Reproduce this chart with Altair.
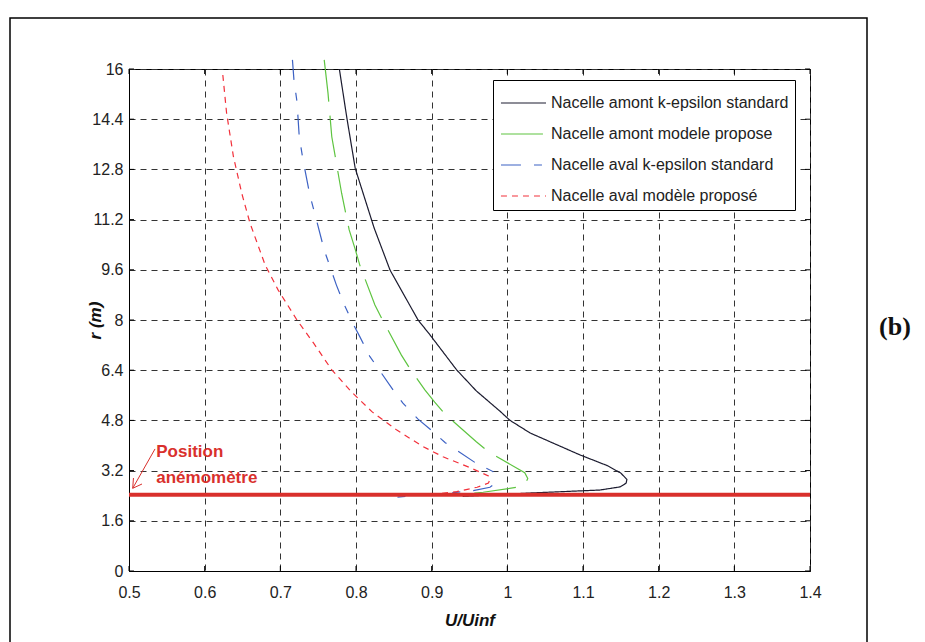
import altair as alt
import pandas as pd

FONT = "Liberation Sans, Arial, sans-serif"

series_names = [
    "Nacelle amont k-epsilon standard",
    "Nacelle amont  modele propose",
    "Nacelle aval k-epsilon standard",
    "Nacelle aval  modèle proposé",
]
series_colors = ["#1b1b2f", "#5ec440", "#3d62c4", "#f2303a"]
series_dashes = [[1, 0], [42, 14], [20, 13, 8, 14], [6, 5]]

black_u = [0.778, 0.788, 0.799, 0.824, 0.845, 0.882, 0.898, 0.933, 0.959, 0.990, 1.003, 1.030,
           1.096, 1.132, 1.150, 1.158, 1.157, 1.149, 1.122, 1.034, 0.941]
black_r = [16.0, 14.43, 12.83, 10.93, 9.59, 8.0, 7.52, 6.41, 5.74, 5.10, 4.81, 4.40,
           3.70, 3.36, 3.12, 2.92, 2.80, 2.68, 2.58, 2.49, 2.38]

green_u = [0.758, 0.763, 0.768, 0.781, 0.791, 0.799, 0.805, 0.825, 0.834, 0.860, 0.871, 0.891,
           0.904, 0.918, 0.959, 0.975, 1.023, 1.027, 1.023, 1.019, 0.968, 0.940]
green_r = [16.29, 15.23, 13.84, 12.04, 10.87, 10.25, 9.75, 8.48, 8.05, 6.88, 6.46, 5.77,
           5.38, 4.99, 4.12, 3.80, 3.13, 2.95, 2.74, 2.69, 2.51, 2.44]

blue_u = [0.716, 0.718, 0.722, 0.725, 0.730, 0.739, 0.746, 0.758, 0.774, 0.784, 0.797, 0.805,
          0.818, 0.849, 0.862, 0.882, 0.898, 0.918, 0.959, 0.981, 0.983, 0.981, 0.977, 0.955,
          0.929, 0.852]
blue_r = [16.29, 15.65, 14.96, 13.84, 13.10, 11.98, 11.35, 10.23, 9.12, 8.51, 7.84, 7.47,
          6.85, 5.77, 5.35, 4.84, 4.52, 4.09, 3.43, 3.17, 2.95, 2.74, 2.67, 2.56,
          2.50, 2.35]

red_u = [0.624, 0.629, 0.638, 0.649, 0.660, 0.680, 0.697, 0.722, 0.744, 0.768, 0.794, 0.821,
         0.854, 0.889, 0.915, 0.951, 0.975, 0.977, 0.975, 0.960, 0.933, 0.893, 0.852]
red_r = [15.81, 14.59, 13.21, 12.04, 11.08, 9.75, 8.96, 8.0, 7.26, 6.41, 5.71, 5.08,
         4.49, 3.96, 3.64, 3.29, 3.03, 2.92, 2.80, 2.67, 2.53, 2.42, 2.40]

x_ticks = [0.5, 0.6, 0.7, 0.8, 0.9, 1.0, 1.1, 1.2, 1.3, 1.4]
y_ticks = [0, 1.6, 3.2, 4.8, 6.4, 8, 9.6, 11.2, 12.8, 14.4, 16]

anemometer_r = [2.43]
ann_text = ["Position", "anémomètre"]
ann_u = [0.536, 0.536]
ann_r = [3.63, 2.79]
arrow_u = [0.5344, 0.5049, 0.5059, 0.5049, 0.5172]
arrow_r = [3.89, 2.636, 2.964, 2.636, 2.773]
arrow_seg = [0, 0, 1, 1, 1]

panel_label = ["(b)"]

rows = []
for name, us, rs in zip(series_names, [black_u, green_u, blue_u, red_u], [black_r, green_r, blue_r, red_r]):
    for i, (u, r) in enumerate(zip(us, rs)):
        rows.append({"series": name, "u": u, "r": r, "i": i})
df = pd.DataFrame(rows)

W, H = 681, 502
xs = alt.Scale(domain=[0.5, 1.4], nice=False, zero=False)
ys = alt.Scale(domain=[0, 16], nice=False, zero=False)
x_axis = alt.Axis(values=x_ticks, format=".1~f", title="U/Uinf", titleY=49,
                  titleBaseline="middle", labelFlush=False, labelOverlap=False,
                  labelPadding=13)
y_axis = alt.Axis(values=y_ticks, format=".1~f", title="r (m)", titleX=-34, titleY=251,
                  titleAlign="center", titleBaseline="middle", labelFlush=False,
                  labelOverlap=False, labelPadding=6)


def X():
    return alt.X("u:Q", scale=xs, axis=x_axis, title="U/Uinf")


def Y():
    return alt.Y("r:Q", scale=ys, axis=y_axis, title="r (m)")


lines = alt.Chart(df).mark_line(strokeWidth=1.2, clip=False).encode(
    x=X(), y=Y(),
    color=alt.Color("series:N", sort=series_names,
                    scale=alt.Scale(domain=series_names, range=series_colors),
                    legend=alt.Legend(title=None)),
    strokeDash=alt.StrokeDash("series:N", sort=series_names,
                              scale=alt.Scale(domain=series_names, range=series_dashes),
                              legend=alt.Legend(title=None)),
    order="i:Q",
)

# inner ticks (MATLAB style)
xt = pd.DataFrame({"u": x_ticks})
yt = pd.DataFrame({"r": y_ticks})
tick_b = alt.Chart(xt).mark_rule(color="black", strokeWidth=1).encode(
    x=X(), y=alt.value(H), y2=alt.value(H - 5))
tick_t = alt.Chart(xt).mark_rule(color="black", strokeWidth=1).encode(
    x=X(), y=alt.value(0), y2=alt.value(5))
tick_l = alt.Chart(yt).mark_rule(color="black", strokeWidth=1).encode(
    y=Y(), x=alt.value(0), x2=alt.value(5))
tick_r = alt.Chart(yt).mark_rule(color="black", strokeWidth=1).encode(
    y=Y(), x=alt.value(W), x2=alt.value(W - 5))

red_rule = alt.Chart(pd.DataFrame({"r": anemometer_r})).mark_rule(
    color="#d9302c", strokeWidth=4).encode(y=Y())

ann = alt.Chart(pd.DataFrame({"u": ann_u, "r": ann_r, "t": ann_text})).mark_text(
    align="left", baseline="alphabetic", font=FONT, fontSize=17, fontWeight="bold",
    color="#d9302c").encode(x=X(), y=Y(), text="t:N")

arrow = alt.Chart(pd.DataFrame({"u": arrow_u, "r": arrow_r, "seg": arrow_seg,
                                "k": list(range(len(arrow_u)))})).mark_line(
    color="#d9302c", strokeWidth=1).encode(x=X(), y=Y(), detail="seg:N", order="k:Q")

frame = alt.Chart(alt.Data(values=[{}])).mark_rect(
    filled=False, stroke="black", strokeWidth=1.5, clip=False).encode(
    x=alt.value(-119), x2=alt.value(738), y=alt.value(-51), y2=alt.value(600))

plabel = alt.Chart(pd.DataFrame({"t": panel_label})).mark_text(
    font="Liberation Serif", fontSize=26, fontWeight="bold", color="#111",
    align="center", baseline="middle").encode(
    x=alt.value(766), y=alt.value(258), text="t:N")

chart = alt.layer(
    lines, frame, tick_b, tick_t, tick_l, tick_r, red_rule, arrow, ann, plabel
).properties(
    width=W, height=H,
    autosize=alt.AutoSizeParams(type="none"),
    padding={"left": 129, "top": 69, "right": 115, "bottom": 71},
    background="white",
).configure_view(
    stroke="black", strokeWidth=1
).configure_axis(
    labelFont=FONT, labelFontSize=16, labelColor="#222",
    titleFont=FONT, titleFontSize=17, titleFontWeight="bold", titleFontStyle="italic",
    titleColor="#111",
    grid=True, gridDash=[6, 5], gridColor="#333", gridWidth=1, gridOpacity=1,
    domainColor="black", domainWidth=1, ticks=False,
).configure_legend(
    orient="none", legendX=364, legendY=11,
    symbolType="M-0.94,0H1.875", symbolSize=1024, symbolStrokeWidth=1.2,
    labelFont=FONT, labelFontSize=16, labelColor="#222", labelLimit=400,
    padding=6, rowPadding=6, labelOffset=18,
    strokeColor="black", fillColor="white", cornerRadius=0,
)

chart.save("out.html", embed_options={"renderer": "svg", "actions": False})
